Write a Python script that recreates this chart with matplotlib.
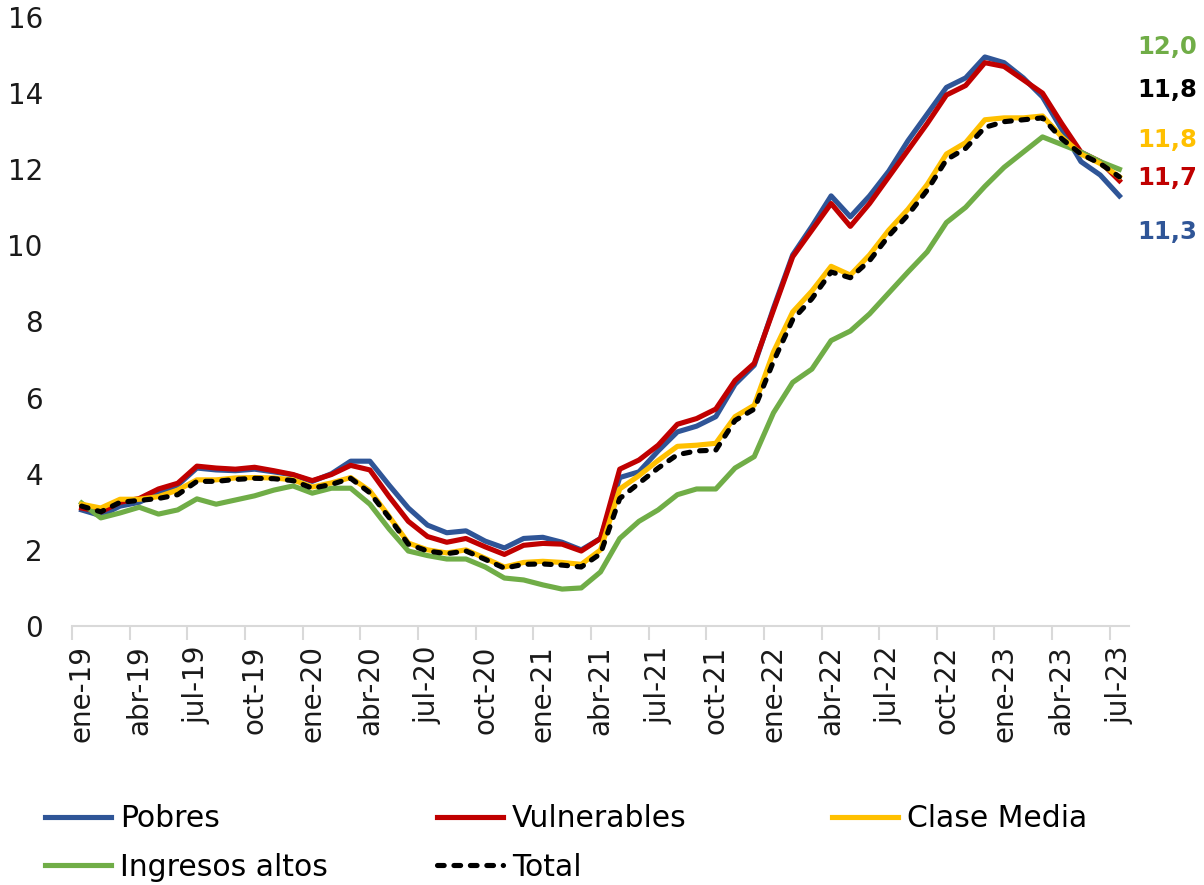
import matplotlib
matplotlib.use("Agg")
import matplotlib.pyplot as plt
import numpy as np

plt.rcParams['font.family'] = ['DejaVu Sans']

meses = ['ene', 'feb', 'mar', 'abr', 'may', 'jun', 'jul', 'ago', 'sep', 'oct', 'nov', 'dic']
categorias = [f"{meses[m]}-{y:02d}" for y in range(19, 24) for m in range(12)][:55]

pobres = [3.05, 2.9, 3.15, 3.25, 3.5, 3.7, 4.15, 4.1, 4.08, 4.12, 4.05, 3.97, 3.8, 4.0, 4.33,
          4.33, 3.7, 3.1, 2.65, 2.45, 2.5, 2.23, 2.05, 2.3, 2.33, 2.2, 2.0, 2.3, 3.9, 4.05,
          4.6, 5.1, 5.25, 5.5, 6.35, 6.85, 8.35, 9.75, 10.5, 11.3, 10.75, 11.3, 11.95, 12.75,
          13.45, 14.15, 14.4, 14.95, 14.8, 14.4, 13.9, 13.05, 12.2, 11.85, 11.3]
vulnerables = [3.1, 3.0, 3.25, 3.35, 3.6, 3.75, 4.2, 4.15, 4.12, 4.17, 4.08, 3.98, 3.82, 3.98, 4.22,
               4.1, 3.4, 2.75, 2.35, 2.2, 2.3, 2.08, 1.88, 2.12, 2.17, 2.15, 1.97, 2.3, 4.12, 4.36,
               4.75, 5.3, 5.45, 5.7, 6.45, 6.9, 8.3, 9.7, 10.4, 11.1, 10.5, 11.1, 11.8, 12.5,
               13.2, 13.95, 14.2, 14.8, 14.7, 14.35, 14.0, 13.2, 12.45, 12.2, 11.7]
clase_media = [3.2, 3.1, 3.33, 3.33, 3.4, 3.57, 3.84, 3.84, 3.89, 3.9, 3.89, 3.84, 3.65, 3.76, 3.9,
               3.55, 2.88, 2.18, 2.0, 1.92, 2.0, 1.78, 1.55, 1.67, 1.7, 1.67, 1.62, 2.0, 3.6, 3.95,
               4.35, 4.72, 4.75, 4.8, 5.5, 5.8, 7.2, 8.25, 8.8, 9.45, 9.22, 9.75, 10.4, 10.95,
               11.6, 12.4, 12.7, 13.3, 13.35, 13.35, 13.4, 12.85, 12.4, 12.15, 11.8]
ingresos_altos = [3.23, 2.84, 2.97, 3.12, 2.94, 3.05, 3.34, 3.2, 3.31, 3.42, 3.57, 3.68, 3.49, 3.62, 3.62,
                  3.2, 2.55, 1.97, 1.85, 1.76, 1.76, 1.55, 1.26, 1.21, 1.08, 0.97, 1.0, 1.42, 2.3, 2.75,
                  3.05, 3.45, 3.6, 3.6, 4.15, 4.45, 5.6, 6.4, 6.75, 7.5, 7.75, 8.2, 8.75, 9.3,
                  9.83, 10.6, 11.0, 11.55, 12.05, 12.45, 12.85, 12.65, 12.45, 12.2, 12.0]
total = [3.15, 3.0, 3.25, 3.3, 3.35, 3.45, 3.8, 3.8, 3.85, 3.88, 3.87, 3.82, 3.62, 3.72, 3.88,
         3.5, 2.85, 2.15, 1.97, 1.9, 1.97, 1.75, 1.52, 1.62, 1.63, 1.6, 1.55, 1.9, 3.35, 3.75,
         4.15, 4.5, 4.6, 4.62, 5.4, 5.7, 6.95, 8.05, 8.6, 9.3, 9.15, 9.6, 10.25, 10.8,
         11.45, 12.25, 12.55, 13.1, 13.25, 13.3, 13.35, 12.8, 12.4, 12.15, 11.8]

C_POB = '#2F5597'
C_VUL = '#C00000'
C_MED = '#FFC000'
C_ALT = '#70AD47'
C_TOT = '#000000'

fig = plt.figure(figsize=(12.04, 8.85), dpi=100)
ax = fig.add_axes([72/1204, 1 - 626/885, (1129 - 72)/1204, (626 - 17)/885])

x = np.arange(len(categorias))
lw = 3.7
l_pob, = ax.plot(x, pobres, color=C_POB, lw=lw, label='Pobres', solid_joinstyle='round')
l_vul, = ax.plot(x, vulnerables, color=C_VUL, lw=lw, label='Vulnerables', solid_joinstyle='round')
l_alt, = ax.plot(x, ingresos_altos, color=C_ALT, lw=lw, label='Ingresos altos', solid_joinstyle='round')
l_med, = ax.plot(x, clase_media, color=C_MED, lw=lw, label='Clase Media', solid_joinstyle='round')
l_tot, = ax.plot(x, total, color=C_TOT, lw=lw, label='Total', dashes=(1.3, 1.9),
                 dash_capstyle='round', dash_joinstyle='round')

ax.set_xlim(-0.5, len(categorias) - 0.5)
ax.set_ylim(0, 16)
ax.set_yticks(np.arange(0, 17, 2))
ax.set_yticklabels([str(v) for v in range(0, 17, 2)])

lab_idx = list(range(0, len(categorias), 3))
ax.set_xticks(lab_idx)
ax.set_xticklabels([categorias[i] for i in lab_idx], rotation=90)
ax.set_xticks([i - 0.5 for i in lab_idx], minor=True)
ax.tick_params(axis='x', which='major', length=0, pad=14, labelsize=20, colors='#1a1a1a')
ax.tick_params(axis='x', which='minor', length=10, width=1.5, color='#D9D9D9')
ax.tick_params(axis='y', length=0, pad=21, labelsize=20, colors='#1a1a1a')

for s in ['left', 'right', 'top']:
    ax.spines[s].set_visible(False)
ax.spines['bottom'].set_color('#D9D9D9')
ax.spines['bottom'].set_linewidth(1.5)

# end labels
end_labels = [(ingresos_altos, C_ALT, 15.2), (total, C_TOT, 14.08), (clase_media, C_MED, 12.77),
              (vulnerables, C_VUL, 11.77), (pobres, C_POB, 10.35)]
for serie, col, ypos in end_labels:
    ax.text(54.95, ypos, f"{serie[-1]:.1f}".replace('.', ','), color=col, fontsize=17.5,
            fontweight='bold', ha='left', va='center', clip_on=False)

# legend in three columns
leg_kw = dict(frameon=False, fontsize=21.5, handlelength=2.2, handletextpad=0.3,
              labelspacing=0.66, borderpad=0, borderaxespad=0, loc='upper left')
anchor_y = 1 - 804/885
fig.legend([l_pob, l_alt], ['Pobres', 'Ingresos altos'],
           bbox_to_anchor=(45/1204, anchor_y), **leg_kw)
fig.legend([l_vul, l_tot], ['Vulnerables', 'Total'],
           bbox_to_anchor=(437/1204, anchor_y), **leg_kw)
fig.legend([l_med], ['Clase Media'],
           bbox_to_anchor=(832/1204, anchor_y), **leg_kw)

fig.savefig('out.png', dpi=100)
